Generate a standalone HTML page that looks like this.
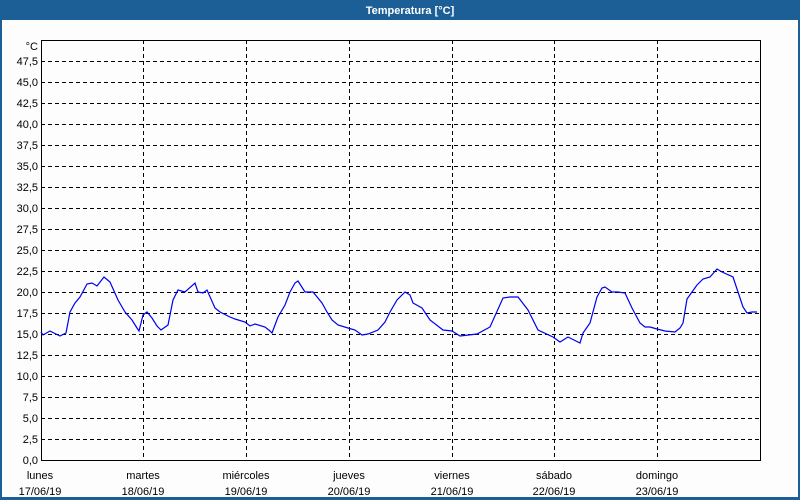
<!DOCTYPE html>
<html><head><meta charset="utf-8"><style>
html,body{margin:0;padding:0;width:800px;height:500px;overflow:hidden;background:#1c5e96;}
svg{display:block}
</style></head><body>
<svg width="800" height="500" xmlns="http://www.w3.org/2000/svg" font-family="Liberation Sans, sans-serif" font-size="11">
<rect x="0" y="0" width="800" height="500" fill="#1c5e96"/>
<rect x="2" y="20" width="796" height="477" fill="#fcfdfc"/>
<text x="410" y="14" fill="#fff" font-weight="bold" text-anchor="middle">Temperatura [°C]</text>
<g stroke="#000" stroke-width="1" stroke-dasharray="4,3" shape-rendering="crispEdges">
<path d="M41 439.5H760M41 418.5H760M41 397.5H760M41 376.5H760M41 355.5H760M41 334.5H760M41 313.5H760M41 292.5H760M41 271.5H760M41 250.5H760M41 229.5H760M41 208.5H760M41 187.5H760M41 166.5H760M41 145.5H760M41 124.5H760M41 103.5H760M41 82.5H760M41 61.5H760"/>
<path d="M143.5 40V460M246.5 40V460M349.5 40V460M452.5 40V460M554.5 40V460M657.5 40V460"/>
</g>
<rect x="41.5" y="40.5" width="719" height="420" fill="none" stroke="#000" shape-rendering="crispEdges"/>
<g text-anchor="end" fill="#000">
<text x="38" y="50">°C</text>
<text x="38" y="65">47,5</text><text x="38" y="86">45,0</text><text x="38" y="107">42,5</text><text x="38" y="128">40,0</text><text x="38" y="149">37,5</text><text x="38" y="170">35,0</text><text x="38" y="191">32,5</text><text x="38" y="212">30,0</text><text x="38" y="233">27,5</text><text x="38" y="254">25,0</text><text x="38" y="275">22,5</text><text x="38" y="296">20,0</text><text x="38" y="317">17,5</text><text x="38" y="338">15,0</text><text x="38" y="359">12,5</text><text x="38" y="380">10,0</text><text x="38" y="401">7,5</text><text x="38" y="422">5,0</text><text x="38" y="443">2,5</text><text x="38" y="464">0,0</text>
</g>
<g text-anchor="middle" fill="#000">
<text x="40" y="479">lunes</text><text x="40" y="495">17/06/19</text>
<text x="143" y="479">martes</text><text x="143" y="495">18/06/19</text>
<text x="246" y="479">miércoles</text><text x="246" y="495">19/06/19</text>
<text x="349" y="479">jueves</text><text x="349" y="495">20/06/19</text>
<text x="452" y="479">viernes</text><text x="452" y="495">21/06/19</text>
<text x="554" y="479">sábado</text><text x="554" y="495">22/06/19</text>
<text x="657" y="479">domingo</text><text x="657" y="495">23/06/19</text>
</g>
<polyline fill="none" stroke="#0000ee" stroke-width="1.2" points="41,332 43,335 50,331 60,336 66,333 70,312 75,303 80,297 87,284 92,283 97,286 104,277 110,282 118,300 125,312 132,320 137,328 139,331 143,315 147,312 152,318 157,326 161,330 168,325 173,300 178,290 185,292 195,283 198,292 203,293 207,290 215,308 220,312 230,317 235,319 245,322 250,326 255,324 265,327 270,331 272,333 278,317 285,305 290,292 295,283 298,281 305,292 313,292 322,303 327,312 332,320 338,325 348,328 355,330 362,335 368,334 378,330 385,322 390,312 397,300 405,292 410,295 413,303 422,308 430,320 443,330 452,331 460,336 477,334 490,327 503,298 510,297 518,297 528,310 538,330 553,337 560,342 568,337 580,343 583,333 590,323 597,297 602,288 605,287 612,292 618,292 625,293 632,308 640,323 645,327 650,327 657,329 665,331 675,332 680,328 683,323 687,299 697,285 703,279 710,277 717,269 722,272 733,277 738,292 743,307 747,313 752,312 757,312"/>
</svg>
</body></html>
